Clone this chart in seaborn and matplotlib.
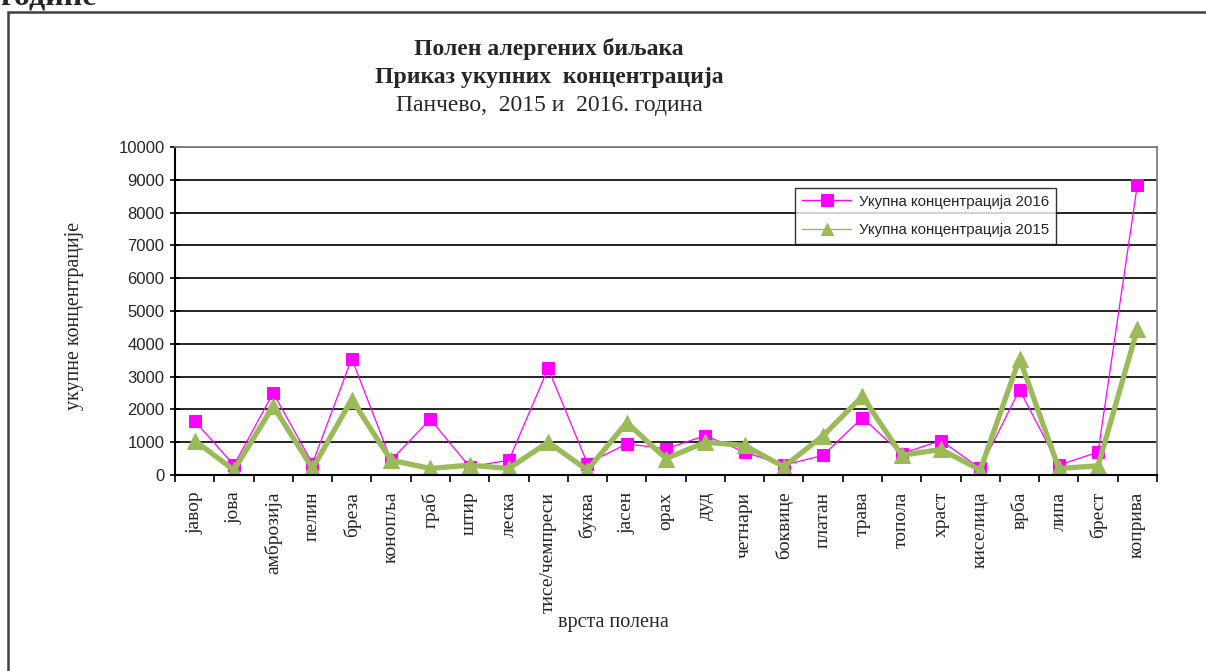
import matplotlib
matplotlib.use("Agg")
import matplotlib.pyplot as plt
import matplotlib.patches as mpatches
import seaborn as sns
import pandas as pd
import numpy as np

categories = ["јавор", "јова", "амброзија", "пелин", "бреза", "конопља", "граб", "штир",
              "леска", "тисе/чемпреси", "буква", "јасен", "орах", "дуд", "четнари", "боквице",
              "платан", "трава", "топола", "храст", "киселица", "врба", "липа", "брест", "коприва"]
conc_2016 = [1650, 300, 2500, 350, 3550, 450, 1700, 250, 450, 3250, 350, 950, 800, 1200,
             700, 300, 600, 1750, 650, 1050, 200, 2600, 300, 700, 8850]
conc_2015 = [1050, 150, 2100, 200, 2300, 450, 200, 300, 200, 1000, 150, 1600, 500, 1000,
             900, 250, 1200, 2400, 600, 780, 150, 3550, 200, 280, 4450]
series_labels = ["Укупна концентрација 2016", "Укупна концентрација 2015"]
yticks = list(range(0, 10001, 1000))

sns.set_theme(style="white")
plt.rcParams['font.family'] = ['Liberation Serif', 'DejaVu Serif']

fig = plt.figure(figsize=(12.06, 6.71), dpi=100)
ax = fig.add_axes([175/1206, 1-475/671, (1157-175)/1206, (475-147)/671])

df16 = pd.DataFrame({"cat": categories, "val": conc_2016})
df15 = pd.DataFrame({"cat": categories, "val": conc_2015})

sns.lineplot(data=df16, x="cat", y="val", ax=ax, color="#FF00FF", lw=0.9, marker="s",
             markersize=9, markeredgecolor="#FF00FF", sort=False, label=series_labels[0])
sns.lineplot(data=df15, x="cat", y="val", ax=ax, color="#9BBB59", lw=3.8, marker="^",
             markersize=12, markeredgecolor="#9BBB59", sort=False, label=series_labels[1])

ax.set_xlim(-0.5, len(categories) - 0.5)
ax.set_ylim(0, 10000)
ax.set_yticks(yticks)
ax.set_yticklabels([str(t) for t in yticks], family=['Liberation Sans'], fontsize=12)
ax.yaxis.grid(True, color="black", lw=1.2)
ax.set_axisbelow(True)
ax.tick_params(axis='y', which='major', direction='inout', length=7, width=1.2, color='black', left=True, pad=4)

ax.set_xticks(range(len(categories)))
ax.set_xticklabels(categories, rotation=90, fontsize=14, family=['Liberation Serif'])
ax.tick_params(axis='x', which='major', length=0, pad=12)
ax.set_xticks(np.arange(-0.5, len(categories), 1), minor=True)
ax.tick_params(axis='x', which='minor', direction='out', length=5, width=1.2, color='black', bottom=True)

for s in ["left", "bottom"]:
    ax.spines[s].set_color("black")
    ax.spines[s].set_linewidth(1.5)
for s in ["top", "right"]:
    ax.spines[s].set_color("#808080")
    ax.spines[s].set_linewidth(1.3)

ax.set_xlabel("")
ax.set_ylabel("")
fig.text(613/1206, 1-623/671, "врста полена", ha="center", va="center", fontsize=14.5)
fig.text(74/1206, 1-316/671, "укупне концентрације", ha="center", va="center", rotation=90, fontsize=14.3)

fig.text(549/1206, 1-49/671, "Полен алергених биљака", ha="center", va="center", fontsize=17, fontweight="bold")
fig.text(549/1206, 1-77/671, "Приказ укупних  концентрација", ha="center", va="center", fontsize=17, fontweight="bold")
fig.text(549/1206, 1-105/671, "Панчево,  2015 и  2016. година", ha="center", va="center", fontsize=17)

fig.text(0/1206, 1-4/671, "године", ha="left", va="baseline", fontsize=23, fontweight="bold")

leg = ax.legend(loc="upper left", bbox_to_anchor=((795-175)/(1157-175), 1-(188-147)/(475-147)),
                frameon=True, fancybox=False, prop={'family': 'Liberation Sans', 'size': 10.8},
                handlelength=3.3, borderpad=0.45, labelspacing=0.95, handletextpad=0.5,
                borderaxespad=0)
leg.get_frame().set_edgecolor("black")
leg.get_frame().set_linewidth(1.0)
for h in leg.get_lines():
    h.set_linewidth(1.0)
    h.set_markersize(8)

rect = mpatches.Rectangle((8/1206, -0.1), 1.2, 1.1 - 12/671, transform=fig.transFigure,
                          fill=False, edgecolor="#404040", lw=1.8)
fig.patches.append(rect)

fig.savefig("out.png", dpi=100)
